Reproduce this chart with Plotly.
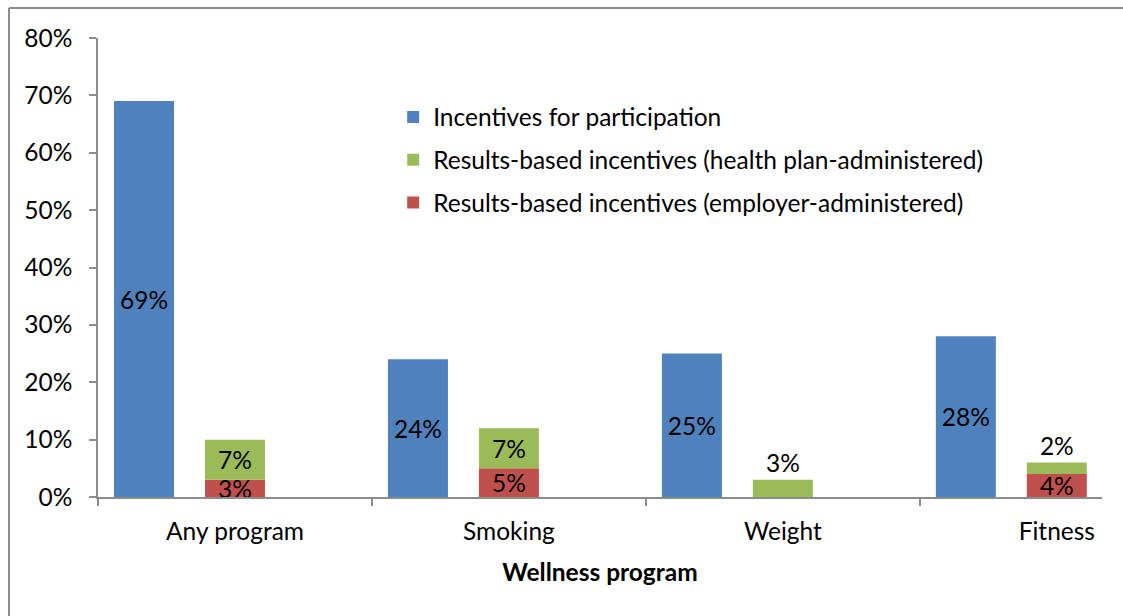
import plotly.graph_objects as go

categories = ["Any program", "Smoking", "Weight", "Fitness"]
participation = [69, 24, 25, 28]
health_plan = [7, 7, 3, 2]
employer = [3, 5, 0, 4]
y_ticks = [0, 10, 20, 30, 40, 50, 60, 70, 80]

BLUE = "#4F81BD"
GREEN = "#9BBB59"
RED = "#C0504D"
FONT = "Lato"
FS = 24.5

bar_w = 0.219
blue_shift = -0.332

def pct(vals):
    return [f"{v}%" if v else "" for v in vals]

fig = go.Figure()

fig.add_trace(go.Bar(
    x=categories, y=participation, name="Incentives for participation",
    marker=dict(color=BLUE, line=dict(width=0)),
    width=bar_w, offset=blue_shift - bar_w / 2,
    text=pct(participation), textposition="inside", insidetextanchor="middle",
    textangle=0, constraintext="none",
    textfont=dict(color="black", size=FS, family=FONT),
    legendrank=1, legendgroup="a",
))

fig.add_trace(go.Bar(
    x=categories, y=employer, name="Results-based incentives (employer-administered)",
    marker=dict(color=RED, line=dict(width=0)),
    width=bar_w, offset=-bar_w / 2,
    text=pct(employer), textposition="inside", insidetextanchor="middle",
    textangle=0, constraintext="none",
    textfont=dict(color="black", size=FS, family=FONT),
    legendrank=3, legendgroup="c",
))

fig.add_trace(go.Bar(
    x=categories, y=health_plan, base=employer,
    name="Results-based incentives (health plan-administered)",
    marker=dict(color=GREEN, line=dict(width=0)),
    width=bar_w, offset=-bar_w / 2,
    text=pct(health_plan),
    textposition=["inside", "inside", "outside", "outside"],
    insidetextanchor="middle",
    textangle=0, constraintext="none",
    textfont=dict(color="black", size=FS, family=FONT),
    legendrank=2, legendgroup="b",
))

# Outer chart frame (left and top edges)
W, H = 1123, 616
left_px, right_px, top_px, bottom_px = 98, 1102, 38, 497
pw = right_px - left_px
ph = bottom_px - top_px
fx = (9 - left_px) / pw
fy = (bottom_px - 8) / ph
fx_end = (W - left_px) / pw
fy_end = (bottom_px - H) / ph
frame = dict(color="#8c8c8c", width=2)
fig.add_shape(type="line", xref="paper", yref="paper",
              x0=fx, x1=fx, y0=fy_end, y1=fy, line=frame, layer="below")
fig.add_shape(type="line", xref="paper", yref="paper",
              x0=fx, x1=fx_end, y0=fy, y1=fy, line=frame, layer="below")

fig.update_layout(
    width=W, height=H,
    margin=dict(l=left_px, r=W - right_px, t=top_px, b=H - bottom_px, pad=0),
    paper_bgcolor="white", plot_bgcolor="white",
    barmode="overlay",
    font=dict(family=FONT, size=FS, color="black"),
    legend=dict(
        x=0.294, y=0.877, xanchor="left", yanchor="top",
        font=dict(size=FS, family=FONT, color="black"),
        bgcolor="rgba(0,0,0,0)", tracegroupgap=8,
        traceorder="grouped",
    ),
    xaxis=dict(
        type="category", range=[-0.5, 3.165],
        showline=True, linecolor="#8c8c8c", linewidth=1.5,
        ticks="outside", tickson="boundaries", ticklen=7,
        tickcolor="#8c8c8c", tickwidth=1.5,
        ticklabelstandoff=12,
        showgrid=False, zeroline=False,
        title=dict(text="<b>Wellness program</b>", font=dict(size=FS, family=FONT), standoff=20),
    ),
    yaxis=dict(
        range=[0, 80], tickvals=y_ticks, ticktext=[f"{v}%" for v in y_ticks],
        showline=True, linecolor="#8c8c8c", linewidth=1.5,
        ticks="outside", ticklen=7, tickcolor="#8c8c8c", tickwidth=1.5,
        ticklabelstandoff=12,
        showgrid=False, zeroline=False,
    ),
)

fig.update_traces(cliponaxis=False)

fig.write_html("out.html")
